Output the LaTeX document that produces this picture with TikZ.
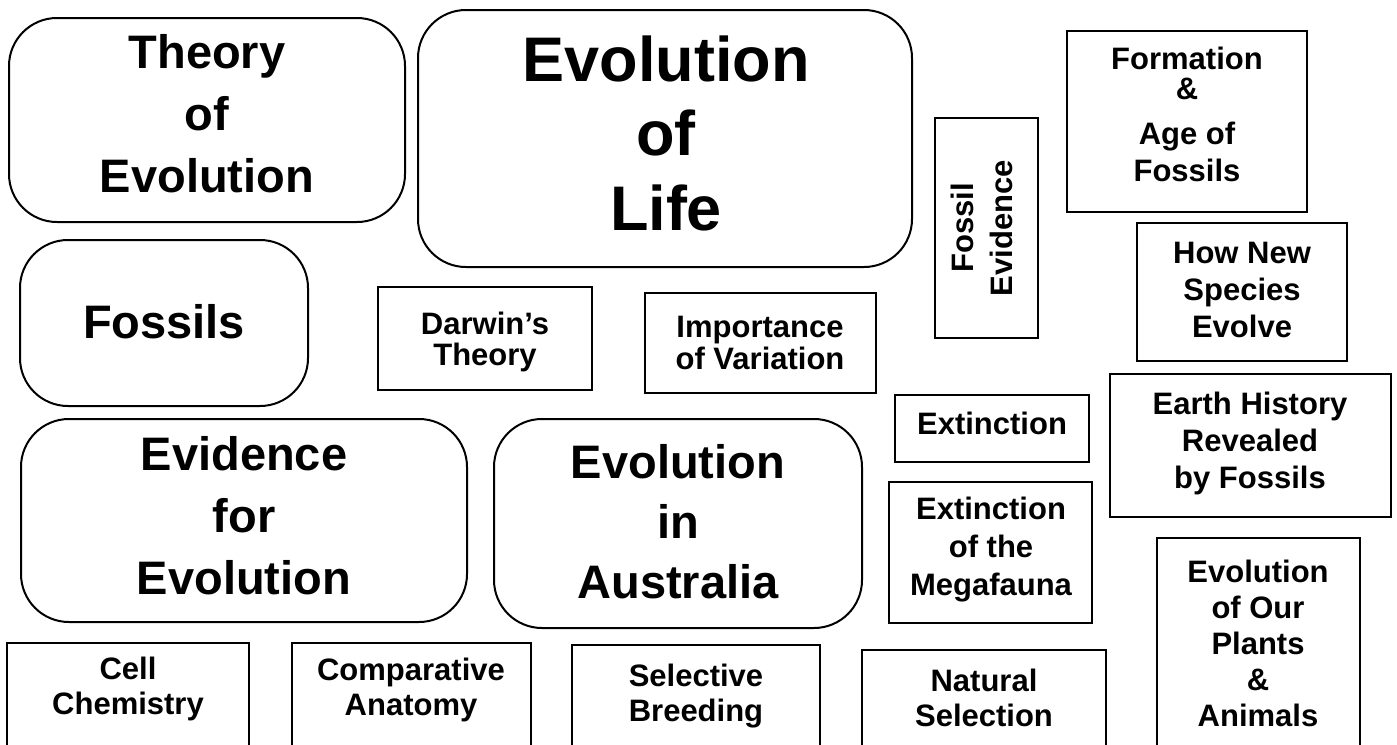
\documentclass[tikz,border=0pt]{standalone}
\usepackage{fontspec}
\setmainfont{Liberation Sans}
\tikzset{
  x=1pt, y=-1pt,
  rbox/.style={draw=black, line width=2pt, rounded corners=48pt, inner sep=0pt},
  sqbox/.style={draw=black, line width=2pt, inner sep=0pt},
  bigtxt/.style={font=\bfseries\fontsize{63}{75}\selectfont, inner sep=0pt},
  midtxt/.style={font=\bfseries\fontsize{47}{56}\selectfont, inner sep=0pt},
  smalltxt/.style={font=\bfseries\fontsize{31}{37}\selectfont, inner sep=0pt}
}
\newcommand\mkbox[6]{%
  \pgfmathsetmacro\bw{#5-#3}\pgfmathsetmacro\bh{#6-#4}%
  \pgfmathsetmacro\bx{(#3+#5)/2}\pgfmathsetmacro\by{(#4+#6)/2}%
  \node[#1, minimum width=\bw pt, minimum height=\bh pt] (#2) at (\bx,\by) {};}
\newcommand\mklines[6]{%
  \foreach \l [count=\i] in {#6} {%
    \pgfmathsetmacro\yy{#4+(\i-1)*#5}%
    \node[#1, anchor=base] (#2-\i) at (#3,\yy) {\l};}}
\begin{document}
\begin{tikzpicture}
\useasboundingbox (0,0) rectangle (1397,744);
\clip (0,0) rectangle (1397,744);
% rounded boxes
\mkbox{rbox}{theory}{9}{18}{405}{222}
\mklines{midtxt}{theoryt}{207}{68}{62}{Theory,of,Evolution}
\mkbox{rbox}{life}{418}{10}{912}{267}
\mklines{bigtxt}{lifet}{666}{81}{74.5}{Evolution,of,Life}
\mkbox{rbox}{fossils}{20}{240}{308}{406}
\node[midtxt, anchor=base] (fossilst) at (164,338) {Fossils};
\mkbox{rbox}{evidence}{21}{419}{467}{622}
\mklines{midtxt}{evidencet}{244}{470}{62}{Evidence,for,Evolution}
\mkbox{rbox}{australia}{494}{419}{862}{628}
\mklines{midtxt}{australiat}{678}{478}{60}{Evolution,in,Australia}
% square boxes
\mkbox{sqbox}{darwin}{378}{287}{592}{390}
\mklines{smalltxt}{darwint}{485}{334}{31}{Darwin’s,Theory}
\mkbox{sqbox}{variation}{645}{293}{876}{393}
\mklines{smalltxt}{variationt}{760}{337}{32}{Importance,of Variation}
\mkbox{sqbox}{fossilev}{935}{118}{1038}{338}
\node[smalltxt, anchor=base, rotate=90] (fossilevt1) at (973,228) {Fossil};
\node[smalltxt, anchor=base, rotate=90] (fossilevt2) at (1012,228) {Evidence};
\mkbox{sqbox}{formation}{1067}{31}{1307}{212}
\node[smalltxt, anchor=base] (formationt1) at (1187,69) {Formation};
\node[smalltxt, anchor=base] (formationt2) at (1187,99) {\&};
\node[smalltxt, anchor=base] (formationt3) at (1187,144) {Age of};
\node[smalltxt, anchor=base] (formationt4) at (1187,181) {Fossils};
\mkbox{sqbox}{species}{1137}{223}{1347}{361}
\mklines{smalltxt}{speciest}{1242}{263}{37}{How New,Species,Evolve}
\mkbox{sqbox}{extinction}{895}{395}{1089}{462}
\node[smalltxt, anchor=base] (extinctiont) at (992,434) {Extinction};
\mkbox{sqbox}{earth}{1110}{374}{1391}{517}
\mklines{smalltxt}{eartht}{1250}{414}{37}{Earth History,Revealed,by Fossils}
\mkbox{sqbox}{mega}{889}{482}{1092}{623}
\mklines{smalltxt}{megat}{991}{519}{38}{Extinction,of the,Megafauna}
\mkbox{sqbox}{plants}{1157}{538}{1360}{770}
\mklines{smalltxt}{plantst}{1258}{582}{36}{Evolution,of Our,Plants,\&,Animals}
\mkbox{sqbox}{cell}{7}{643}{249}{770}
\mklines{smalltxt}{cellt}{128}{679}{35}{Cell,Chemistry}
\mkbox{sqbox}{anatomy}{292}{643}{531}{770}
\mklines{smalltxt}{anatomyt}{411}{680}{35}{Comparative,Anatomy}
\mkbox{sqbox}{breeding}{572}{645}{820}{770}
\mklines{smalltxt}{breedingt}{696}{686}{35}{Selective,Breeding}
\mkbox{sqbox}{natural}{862}{650}{1106}{770}
\mklines{smalltxt}{naturalt}{984}{691}{35}{Natural,Selection}
\end{tikzpicture}
\end{document}
